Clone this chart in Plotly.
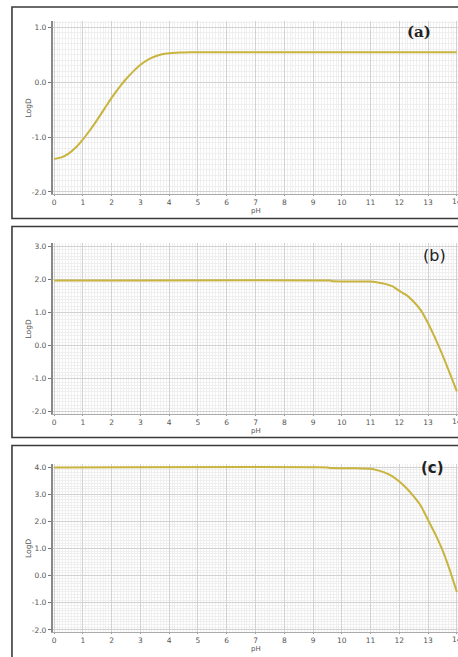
import plotly.graph_objects as go

W, H = 458, 657

# ---- data ----
ph_a = [0, 0.25, 0.5, 0.75, 1.0, 1.25, 1.5, 1.75, 2.0, 2.25, 2.5, 2.75, 3.0, 3.25,
        3.5, 3.75, 4.0, 4.25, 4.5, 5.0, 6.0, 8.0, 10.0, 12.0, 14.0]
logd_a = [-1.40, -1.37, -1.30, -1.19, -1.04, -0.87, -0.68, -0.48, -0.28, -0.10, 0.06,
          0.20, 0.32, 0.41, 0.47, 0.51, 0.53, 0.54, 0.545, 0.55, 0.55, 0.55, 0.55, 0.55, 0.55]

ph_b = [0, 9.6, 9.7, 11.0, 11.25, 11.5, 11.75, 12.0, 12.25, 12.5, 12.75, 13.0, 13.25,
        13.5, 13.75, 14.0]
logd_b = [1.97, 1.97, 1.95, 1.94, 1.91, 1.87, 1.80, 1.66, 1.53, 1.33, 1.07, 0.68, 0.22,
          -0.28, -0.82, -1.38]

ph_c = [0, 9.5, 9.6, 10.5, 11.0, 11.25, 11.5, 11.75, 12.0, 12.25, 12.5, 12.75, 13.0,
        13.25, 13.5, 13.75, 14.0]
logd_c = [3.99, 3.99, 3.97, 3.96, 3.94, 3.88, 3.80, 3.67, 3.47, 3.22, 2.92, 2.57, 2.05,
          1.53, 0.94, 0.22, -0.60]

x_ticks = list(range(0, 15))
y_ticks_a = [-2, -1, 0, 1]
y_ticks_b = [-2, -1, 0, 1, 2, 3]
y_ticks_c = [-2, -1, 0, 1, 2, 3, 4]
labels = ["(a)", "(b)", "(c)"]

LINE = "#c8b43e"

def py(px):
    return 1 - px / H

panels = [
    dict(x=ph_a, y=logd_a, yt=y_ticks_a, yr=[-2.04, 1.12], top=20, bot=194,
         box=(6, 218.5), lab=labels[0], labxy=(419, 31),
         labfont=dict(family="DejaVu Serif", size=15, color="#222"), bold=True),
    dict(x=ph_b, y=logd_b, yt=y_ticks_b, yr=[-2.07, 3.11], top=243, bot=415,
         box=(226.5, 438.5), lab=labels[1], labxy=(434, 256),
         labfont=dict(family="DejaVu Sans", size=16, color="#222"), bold=False),
    dict(x=ph_c, y=logd_c, yt=y_ticks_c, yr=[-2.08, 4.12], top=465, bot=634,
         box=(446.5, 662), lab=labels[2], labxy=(432, 469),
         labfont=dict(family="DejaVu Sans", size=15, color="#222"), bold=True),
]

fig = go.Figure()
layout = dict(width=W, height=H, margin=dict(l=0, r=0, t=0, b=0),
              paper_bgcolor="white", plot_bgcolor="white", showlegend=False)
shapes, annotations = [], []
tickfont = dict(family="DejaVu Sans", size=7.5, color="#555")
x0dom = 52 / W

for i, p in enumerate(panels, start=1):
    xa = "x" if i == 1 else f"x{i}"
    ya = "y" if i == 1 else f"y{i}"
    fig.add_trace(go.Scatter(x=p["x"], y=p["y"], mode="lines", xaxis=xa, yaxis=ya,
                             line=dict(color=LINE, width=2, shape="spline", smoothing=0.4),
                             hoverinfo="skip"))
    xk = "xaxis" if i == 1 else f"xaxis{i}"
    yk = "yaxis" if i == 1 else f"yaxis{i}"
    layout[xk] = dict(domain=[x0dom, 1], range=[-0.045, 14.04], anchor=ya,
                      tickvals=x_ticks, ticktext=[str(t) for t in x_ticks],
                      tickfont=tickfont, ticks="outside", ticklen=1, tickcolor="#999",
                      showline=True, linecolor="#aaa", linewidth=1,
                      showgrid=True, gridcolor="#d2d2d2", gridwidth=1, zeroline=False,
                      minor=dict(dtick=0.1, tick0=0, showgrid=True, gridcolor="#efefef",
                                 gridwidth=1, ticks=""))
    layout[yk] = dict(domain=[py(p["bot"]), py(p["top"])], range=p["yr"], anchor=xa,
                      tickvals=p["yt"], ticktext=[f"{t:.1f}" for t in p["yt"]],
                      tickfont=tickfont, ticks="outside", ticklen=3, tickcolor="#777",
                      showline=True, linecolor="#888", linewidth=2,
                      showgrid=True, gridcolor="#d2d2d2", gridwidth=1, zeroline=False,
                      minor=dict(dtick=0.1, tick0=0, showgrid=True, gridcolor="#efefef",
                                 gridwidth=1, ticks=""))
    # last x tick label, partly cut by the page edge as in the reference
    annotations.append(dict(text=str(x_ticks[-1]), xref=xa, yref="paper", x=x_ticks[-1],
                            y=py(p["bot"] + 7), showarrow=False, font=tickfont,
                            xanchor="center", yanchor="middle"))
    # panel frame
    shapes.append(dict(type="rect", xref="paper", yref="paper", x0=11 / W, x1=1.05,
                       y0=py(p["box"][1]), y1=py(p["box"][0]),
                       line=dict(color="#3a3a3a", width=1.6), layer="above"))
    # axis titles
    annotations.append(dict(text="LogD", xref="paper", yref="paper", x=28 / W,
                            y=py((p["top"] + p["bot"]) / 2), showarrow=False, textangle=-90,
                            font=dict(family="DejaVu Sans", size=7.5, color="#555"),
                            xanchor="center", yanchor="middle"))
    annotations.append(dict(text="pH", xref="paper", yref="paper",
                            x=(53.3 + 7 * 28.9) / W, y=py(p["bot"] + 16.5), showarrow=False,
                            font=dict(family="DejaVu Sans", size=7, color="#555"),
                            xanchor="center", yanchor="middle"))
    txt = f"<b>{p['lab']}</b>" if p["bold"] else p["lab"]
    annotations.append(dict(text=txt, xref="paper", yref="paper", x=p["labxy"][0] / W,
                            y=py(p["labxy"][1]), showarrow=False, font=p["labfont"],
                            xanchor="center", yanchor="middle"))

layout["shapes"] = shapes
layout["annotations"] = annotations
fig.update_layout(**layout)
fig.write_html("out.html")
